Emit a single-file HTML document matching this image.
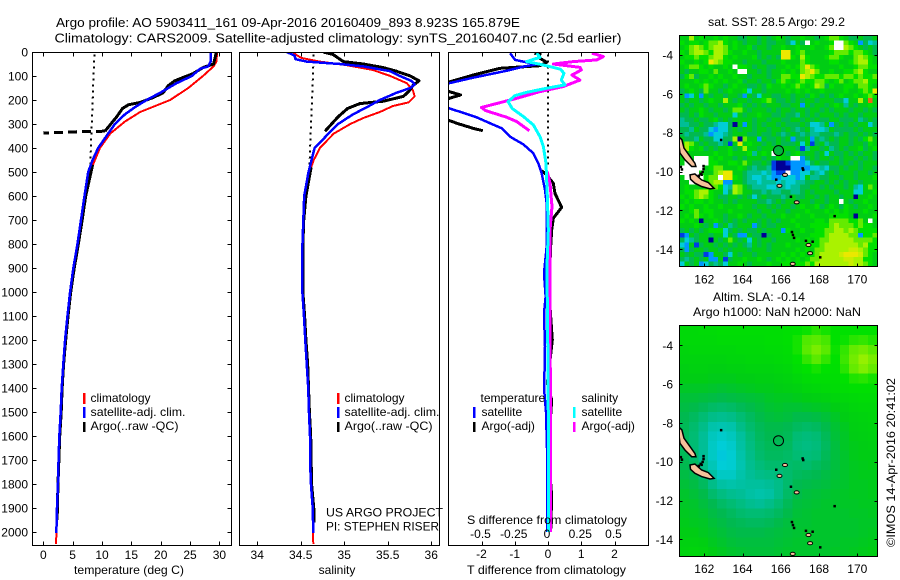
<!DOCTYPE html>
<html lang="en">
<head>
<meta charset="utf-8">
<title>Argo profile</title>
<style>
html,body{margin:0;padding:0;background:#fff;}
svg{display:block;font-family:"Liberation Sans",Arial,sans-serif;font-size:12px;fill:#000;}
text{fill:#000;}
</style>
</head>
<body>
<svg id="chart" xmlns="http://www.w3.org/2000/svg" width="900" height="580" viewBox="0 0 900 580">
<defs>
<clipPath id="clip-temp"><rect x="32.5" y="52.5" width="198.5" height="492.5"/></clipPath>
<clipPath id="clip-sal"><rect x="239.5" y="52.5" width="200" height="492.5"/></clipPath>
<clipPath id="clip-diff"><rect x="448.5" y="52.5" width="200" height="492.5"/></clipPath>
<clipPath id="clip-map1"><rect x="679.5" y="35.5" width="198" height="231"/></clipPath>
<clipPath id="clip-map2"><rect x="679.5" y="325.5" width="198" height="231"/></clipPath>
</defs>
<rect x="0" y="0" width="900" height="580" fill="#fff"/>
<text x="56" y="27" font-size="13" textLength="464" lengthAdjust="spacingAndGlyphs">Argo profile: AO 5903411_161 09-Apr-2016 20160409_893 8.923S 165.879E</text>
<text x="54.5" y="42.5" font-size="13" textLength="567" lengthAdjust="spacingAndGlyphs">Climatology: CARS2009. Satellite-adjusted climatology: synTS_20160407.nc (2.5d earlier)</text>

<g id="panel-temp"></g>
<g id="panel-sal"></g>
<g id="panel-diff"></g>
<g id="map-sst"></g>
<g id="map-sla"></g>

<text x="129" y="574" text-anchor="middle" textLength="110" lengthAdjust="spacingAndGlyphs">temperature (deg C)</text>
<text x="337" y="574" text-anchor="middle">salinity</text>
<text x="546.5" y="574" text-anchor="middle" textLength="159" lengthAdjust="spacingAndGlyphs">T difference from climatology</text>
<text x="547" y="524" text-anchor="middle" textLength="160" lengthAdjust="spacingAndGlyphs">S difference from climatology</text>

<rect x="83" y="393" width="2.5" height="11" fill="#f00"/>
<rect x="83" y="407" width="2.5" height="11" fill="#00f"/>
<rect x="83" y="422" width="2.5" height="10" fill="#000"/>
<text x="90.5" y="402">climatology</text>
<text x="90.5" y="416" textLength="95" lengthAdjust="spacingAndGlyphs">satellite-adj. clim.</text>
<text x="90.5" y="430" textLength="88" lengthAdjust="spacingAndGlyphs">Argo(..raw -QC)</text>

<rect x="337" y="393" width="2.5" height="11" fill="#f00"/>
<rect x="337" y="407" width="2.5" height="11" fill="#00f"/>
<rect x="337" y="422" width="2.5" height="10" fill="#000"/>
<text x="344.5" y="402">climatology</text>
<text x="344.5" y="416" textLength="95" lengthAdjust="spacingAndGlyphs">satellite-adj. clim.</text>
<text x="344.5" y="430" textLength="88" lengthAdjust="spacingAndGlyphs">Argo(..raw -QC)</text>
<text x="326" y="516.5" textLength="117" lengthAdjust="spacingAndGlyphs">US ARGO PROJECT</text>
<text x="326" y="530.5" textLength="113" lengthAdjust="spacingAndGlyphs">PI: STEPHEN RISER</text>

<text x="480.5" y="402">temperature</text>
<rect x="473" y="407" width="2.5" height="11" fill="#00f"/>
<rect x="473" y="422" width="2.5" height="10" fill="#000"/>
<text x="481.5" y="416">satellite</text>
<text x="481.5" y="430">Argo(-adj)</text>
<text x="581.5" y="402">salinity</text>
<rect x="573" y="407" width="2.5" height="11" fill="#0ff"/>
<rect x="573" y="422" width="2.5" height="10" fill="#f0f"/>
<text x="581.5" y="416">satellite</text>
<text x="581.5" y="430">Argo(-adj)</text>

<text x="708" y="26" textLength="137" lengthAdjust="spacingAndGlyphs">sat. SST: 28.5 Argo: 29.2</text>
<text x="713" y="301" textLength="92" lengthAdjust="spacingAndGlyphs">Altim. SLA: -0.14</text>
<text x="693" y="316" textLength="168" lengthAdjust="spacingAndGlyphs">Argo h1000: NaN h2000: NaN</text>
<text transform="translate(895 547) rotate(-90)" textLength="169" lengthAdjust="spacingAndGlyphs">©IMOS 14-Apr-2016 20:41:02</text>
</svg>

<script>
// ---------- depth ticks ----------
const depthTicks = [0,100,200,300,400,500,600,700,800,900,1000,1100,1200,1300,1400,1500,1600,1700,1800,1900,2000];
const tempTicks = [0,5,10,15,20,25,30];
const salTicks = [34,34.5,35,35.5,36];
const salTickLabels = ['34','34.5','35','35.5','36'];
const tDiffTicks = [-2,-1,0,1,2];
const sDiffTicks = [-0.5,-0.25,0,0.25,0.5];
const sDiffTickLabels = ['-0.5','-0.25','0','0.25','0.5'];
const lonTicks = [162,164,166,168,170];
const latTicks = [-4,-6,-8,-10,-12,-14];

// ---------- temperature ----------
const climTempDepth = [0,40,60,100,150,200,250,290,340,400,500,600,703,803,903,1003,1103,1203,1303,1403,1500,1600,1700,1800,1900,2000,2050];
const climTemp = [29.6,29.5,29,27.2,24.7,21.6,16.5,13.9,11.4,9.65,7.95,7.05,6.4,5.85,5.15,4.6,4.15,3.75,3.45,3.15,2.95,2.73,2.6,2.5,2.33,2.25,2.16];
const satTempDepth = [0,40,60,70,100,130,170,200,230,260,300,340,400,450,500,603,703,803,903,1003,1103,1203,1303,1403,1500,1600,1700,1800,1900,2005];
const satTemp = [28.5,28.5,28.1,26.7,25.3,22.7,19.9,17.6,15.6,13.9,12.2,11.05,9.35,8.4,7.65,7,6.4,5.8,5.1,4.55,4.1,3.7,3.4,3.13,2.96,2.73,2.6,2.5,2.33,2.22];
const argoTempDepth = [0,50,65,90,120,140,170,190,210,220,235,270,330,null,470,603,703,803,903,1003,1103,1203,1303,1403,1500,1600,1700,1800,1900,1950];
const argoTemp = [29.5,29,27.2,25.5,22.4,21.3,20.4,18.7,16.5,14.5,13.5,12.5,10.5,null,8.4,7.2,6.6,5.95,5.25,4.65,4.2,3.8,3.45,3.2,3.05,2.8,2.65,2.5,2.4,2.35];
const argoTempDropDepth = [330,332,335,338];
const argoTempDrop = [10.5,6,3,0];
const meanTempDepth = [10,470];
const meanTemp = [8.7,8];

// ---------- salinity ----------
const climSalDepth = [0,10,25,40,55,75,100,130,160,185,210,225,250,275,300,340,400,450,500,600,703,803,1003,1103,1203,1303,1403,1500,1600,1700,1800,1900,2000,2050];
const climSal = [34.415,34.44,34.51,34.72,35.03,35.33,35.53,35.72,35.79,35.81,35.74,35.56,35.41,35.22,35.07,34.88,34.72,34.65,34.6,34.55,34.53,34.52,34.52,34.538,34.553,34.57,34.587,34.595,34.607,34.607,34.618,34.638,34.64,34.645];
const satSalDepth = [0,15,30,40,50,60,80,100,120,135,150,170,200,230,260,300,340,400,500,600,703,803,1003,1103,1203,1303,1403,1500,1600,1700,1800,1900,2005];
const satSal = [34.34,34.43,34.44,34.57,34.95,35.22,35.53,35.64,35.77,35.81,35.76,35.6,35.41,35.26,35.1,34.93,34.82,34.66,34.59,34.54,34.53,34.52,34.52,34.538,34.553,34.57,34.587,34.595,34.607,34.607,34.618,34.638,34.645];
const argoSalDepth = [0,10,25,40,50,65,80,100,120,140,165,185,205,215,235,270,330,null,480,600,700,800,1000,1100,1200,1300,1400,1500,1600,1700,1800,1900,1960];
const argoSal = [34.76,34.87,34.93,34.99,35.22,35.45,35.6,35.76,35.86,35.79,35.74,35.68,35.45,35.18,35.04,34.93,34.78,null,34.62,34.56,34.535,34.525,34.525,34.545,34.56,34.58,34.59,34.6,34.615,34.62,34.625,34.65,34.65];
const meanSalDepth = [10,480];
const meanSal = [34.65,34.6];

// ---------- differences from climatology ----------
const satDTDepth = [5,33,43,51,61,78,107,130,180,235,249,272,297,318,353,385,422,464,506,575,630,811,922,1019,1089,1228,1367,1400,1500,1700,2000];
const satDT = [-1.14,-0.99,-0.64,-0.34,-0.74,-1.24,-2.25,-2.97,-3.6,-2.97,-2.65,-2.15,-1.74,-1.39,-1.14,-0.74,-0.44,-0.29,-0.19,-0.09,-0.04,-0.04,-0.12,-0.07,-0.12,-0.09,-0.11,-0.12,-0.06,-0.02,-0.02];
const argoDTDepth = [5,8,22,43,57,68,96,124,150,165,179,193,240,286,301,318,328,null,494,512,547,589,647,693,742,811,1000,1200,1300,1380,1450,1600,1700,1850,2000];
const argoDT = [-0.41,-0.24,-0.29,-0.04,-0.24,-1.44,-2.25,-2.95,-3.6,-2.97,-2.63,-2.97,-3.6,-2.97,-2.65,-2.25,-1.96,null,-0.19,-0.04,0.16,0.21,0.41,0.16,0.11,0.08,0.03,0.13,0.05,-0.02,0.11,0.04,0.03,0.11,0.08];
const satDSDepth = [5,22,40,51,61,72,89,117,137,151,168,182,207,235,269,304,353,394,464,603,742,900,1200,1500,2000];
const satDS = [-0.085,-0.06,-0.16,-0.06,0.015,0.095,0.12,0.1,0.128,-0.01,-0.16,-0.25,-0.3,-0.27,-0.185,-0.11,-0.06,-0.035,-0.015,-0.005,0.0025,-0.008,-0.002,0.002,0.004];
const argoDSDepth = [5,19,33,40,50,64,75,96,117,144,165,193,231,244,272,290,328,null,499,547,644,742,900,1200,1500,2000];
const argoDS = [0.33,0.416,0.366,0.19,0.04,0.24,0.25,0.18,0.24,0.115,-0.06,-0.235,-0.5,-0.47,-0.31,-0.235,-0.14,null,-0.005,0.015,0.03,0.015,0.015,0.015,0.02,0.02];
const zeroDiffDepth = [10,480];
const zeroDiff = [0,0];

// ---------- SST anomaly map, colour level per cell (N = missing) ----------
const N = null;
const sstRows = [
[6,6,9,6,7,6,6,7,6,7,6,6,5,5,6,6,5,6,5,6,7,6,5,6,6,7,6,6,5,6,7,8,8,7,6,5,5,6,5,5,6],
[7,6,7,7,6,7,8,8,9,7,6,7,6,5,6,6,5,6,5,5,6,6,5,3,6,5,N,6,7,6,6,7,N,N,8,7,6,2,5,3,4],
[6,7,8,9,8,7,8,9,9,8,6,7,6,6,7,5,6,6,5,6,6,7,6,6,7,6,6,7,6,6,7,8,N,N,9,8,7,6,5,6,5],
[7,6,8,9,9,8,7,9,9,8,7,6,6,7,6,6,5,6,6,6,6,10,10,6,7,8,6,6,6,6,6,7,8,8,8,7,8,8,7,6,5],
[6,7,7,8,7,7,8,9,9,7,6,7,6,6,6,7,5,6,5,6,5,10,10,7,6,9,7,6,6,6,7,8,8,7,6,6,8,9,8,7,6],
[7,6,6,7,6,7,10,9,8,7,7,6,6,5,6,6,6,5,6,6,6,7,6,6,6,8,7,6,6,6,6,7,7,6,6,7,8,9,9,7,6],
[6,7,8,8,7,6,7,6,6,7,6,N,7,7,6,5,6,6,5,5,6,6,7,6,7,8,10,8,7,6,6,6,6,7,6,6,7,8,8,7,7],
[6,5,6,6,7,7,6,8,6,6,7,6,N,N,6,6,5,6,5,6,6,7,6,7,6,8,9,10,8,6,6,7,6,6,7,7,8,9,7,6,6],
[5,7,8,5,6,6,7,6,7,6,6,7,6,6,5,6,6,6,5,6,6,8,8,7,7,10,9,8,7,7,8,8,8,7,8,8,7,8,7,7,8],
[6,6,6,7,6,7,6,7,6,7,6,6,7,5,6,6,5,6,6,5,7,8,7,6,7,8,7,7,8,8,7,6,7,8,6,7,8,8,9,7,7],
[6,7,6,6,7,8,7,6,6,5,6,7,6,6,5,5,6,5,7,6,6,7,6,7,8,7,6,7,9,8,5,7,6,6,7,7,6,8,8,7,6],
[5,6,7,6,5,8,6,6,5,6,7,6,6,7,3,6,6,5,6,6,6,6,7,6,7,6,7,6,6,7,6,6,6,6,7,6,6,7,8,7,10],
[6,2,3,6,2,6,5,6,6,5,6,6,5,2,6,5,3,6,6,5,5,6,6,5,6,6,5,7,6,5,6,5,6,7,6,6,7,6,7,8,7],
[6,5,6,6,5,6,7,6,6,9,6,5,6,6,5,6,6,7,8,6,5,5,6,5,6,5,6,6,5,6,6,6,5,5,3,6,6,9,6,11,6],
[5,6,5,6,6,5,6,6,5,6,6,6,7,5,6,5,6,5,6,6,6,5,5,6,6,2,6,5,6,6,5,6,7,6,4,6,5,6,6,7,6],
[6,5,6,6,7,6,5,6,6,5,6,8,8,6,5,6,6,6,5,6,5,6,6,5,6,6,5,6,6,5,6,5,6,6,6,5,6,6,5,6,5],
[5,5,6,5,7,6,6,5,6,6,6,3,6,5,6,6,7,6,6,5,5,6,5,5,4,6,5,6,5,6,6,6,5,6,5,6,6,5,6,6,6],
[4,5,5,6,5,5,6,7,5,6,5,6,6,6,6,5,6,6,5,6,6,5,5,6,6,5,6,5,6,5,5,6,6,5,5,5,6,4,5,6,5],
[4,4,5,5,6,5,5,4,3,3,5,0,6,2,6,5,6,5,6,6,5,6,5,5,5,6,5,3,3,4,6,2,5,6,5,6,5,6,6,3,5],
[5,5,4,6,5,5,3,2,3,3,5,6,5,6,6,5,6,6,5,6,6,5,6,5,4,5,6,4,3,3,4,6,5,5,5,5,6,5,6,6,6],
[5,4,5,5,5,4,2,3,3,4,5,6,6,6,5,5,6,5,5,6,5,4,5,6,5,4,5,4,4,5,5,5,4,5,6,5,5,6,5,6,5],
[6,5,5,4,6,5,5,3,3,5,5,9,0,8,6,6,2,6,5,5,6,5,6,2,5,5,6,2,5,4,5,6,5,6,6,5,6,5,7,8,6],
[7,9,8,6,5,6,5,5,4,5,1,6,10,6,7,6,6,5,6,5,6,5,5,5,6,3,6,1,5,6,4,5,5,6,6,5,6,6,5,7,6],
[8,9,7,6,7,5,6,5,6,6,7,5,6,9,6,6,5,6,6,6,5,6,6,6,5,1,4,6,6,5,6,4,5,6,5,6,6,7,5,6,7],
[5,7,6,6,6,6,6,7,6,6,7,6,6,6,7,4,6,7,6,N,6,6,5,6,7,5,6,6,5,6,3,6,5,5,6,5,6,5,6,6,5],
[6,6,6,N,N,N,7,6,7,6,6,5,6,5,6,6,6,5,6,5,7,6,6,N,N,2,5,6,5,6,6,5,6,5,6,6,5,6,5,6,5],
[6,N,N,N,N,N,7,7,6,6,7,7,6,8,6,5,5,6,5,1,0,0,1,2,2,2,3,5,6,5,5,6,6,5,6,5,6,5,6,6,6],
[N,N,N,N,N,6,7,8,8,6,6,6,7,6,5,4,5,5,4,1,0,0,0,2,2,2,2,3,3,4,3,5,5,6,5,6,6,5,6,6,5],
[N,N,N,N,7,6,6,8,9,10,10,6,6,5,4,4,4,3,4,2,1,1,N,2,2,3,3,5,4,3,5,6,5,6,6,6,5,6,6,5,6],
[6,N,N,N,N,7,8,8,N,10,10,7,6,5,4,3,3,4,3,2,2,3,3,3,2,3,6,4,4,5,5,6,6,5,6,6,5,6,6,6,7],
[6,6,N,N,6,7,8,9,9,2,2,6,6,5,4,4,3,4,4,4,3,4,3,3,4,4,5,5,6,6,5,6,5,6,5,6,6,5,6,6,6],
[6,7,6,6,6,7,8,8,7,3,4,9,8,6,5,4,4,4,3,3,4,4,3,4,4,5,5,6,6,5,6,5,6,6,5,6,4,3,6,8,6],
[6,7,7,8,9,9,7,6,6,3,5,9,8,6,6,5,5,4,5,4,4,5,5,4,4,5,6,5,6,6,6,6,5,6,6,6,3,3,6,6,7],
[7,6,7,8,9,8,7,6,5,5,6,6,5,6,5,3,5,6,5,5,5,4,5,6,5,5,6,6,5,6,5,6,6,5,6,6,0,6,6,7,6],
[6,7,6,7,7,6,7,6,6,5,6,5,6,6,6,6,5,5,4,5,6,5,6,6,5,6,6,5,6,6,5,6,6,N,6,5,6,6,7,6,6],
[7,6,7,6,6,7,6,6,7,6,6,6,7,6,6,5,6,6,5,6,5,6,6,5,6,7,6,6,7,5,6,7,6,5,7,6,5,6,6,7,6],
[6,6,7,8,6,7,7,6,6,6,7,6,6,6,6,6,5,6,6,5,6,6,5,6,6,6,7,6,6,6,7,6,7,6,7,6,6,6,7,6,6],
[6,7,6,8,7,6,7,6,6,5,6,6,7,6,5,6,6,5,6,6,6,7,6,6,7,6,6,7,6,6,6,7,7,7,7,6,0,6,6,6,7],
[7,6,7,6,0,6,6,7,6,5,6,5,6,5,6,6,5,6,5,6,5,6,6,7,6,6,6,6,7,7,6,8,8,8,8,7,7,8,6,N,6],
[6,6,6,7,6,5,6,2,5,6,4,5,6,6,6,2,5,6,5,5,6,6,6,6,7,6,6,7,7,7,7,8,9,8,8,8,7,8,7,7,6],
[5,6,5,6,5,6,7,7,7,3,5,6,5,6,5,5,6,5,6,6,6,2,7,6,6,7,6,6,7,7,8,8,9,9,8,9,8,7,7,7,7],
[1,2,6,5,6,6,5,6,6,3,6,5,2,2,6,5,5,0,5,6,6,6,6,7,6,6,6,7,7,7,8,9,9,9,9,8,8,2,7,7,8],
[5,3,4,5,6,6,0,6,5,6,8,6,5,6,3,6,5,6,6,5,6,6,6,6,7,6,7,6,7,8,8,9,9,9,9,9,8,8,8,8,7],
[3,2,6,1,5,6,6,5,6,5,6,5,6,5,4,6,5,6,5,6,6,6,7,6,6,6,7,7,7,8,9,9,9,9,9,9,9,8,9,7,7],
[5,2,5,6,6,5,6,6,5,6,5,6,6,6,5,6,6,6,5,6,6,6,6,6,7,6,7,6,8,8,9,9,9,9,9,9.5,9.5,9,8,7,7],
[6,5,6,5,5,1,2,6,6,5,3,6,5,6,6,5,6,6,6,6,6,7,6,7,6,7,6,7,8,9,9,9,9,9.5,10,10,10,9.5,8,7,6],
[5,4,5,6,5,6,2,2,6,1,5,6,6,7,6,6,7,6,5,6,7,6,7,6,7,6,7,8,8,9,9,9,9,9,9.5,9.5,9,9,7,7,6],
[3,6,5,6,2,3,5,4,5,3,6,6,7,6,5,6,6,6,7,6,6,7,7,6,7,7,8,7,9,9,9,9,9,9,9,9.5,9,9,8,7,6]
];

// ---------- sea level anomaly map, colour level per coarse cell ----------
const slaRows = [
[6.6,6.6,6.7,6.7,6.8,6.8,6.8,6.8,6.8,6.8,6.8,6.9,7,7.1,7.4,7.2,7,7,7,7,7],
[6.6,6.6,6.6,6.6,6.7,6.7,6.7,6.7,6.7,6.8,6.8,6.9,7.2,7.8,7.9,7.7,7,7.1,7.4,7.5,7.3],
[6.4,6.5,6.5,6.5,6.5,6.5,6.6,6.6,6.6,6.7,6.7,6.8,7.2,7.9,8.3,7.9,7.1,7.5,8,8.2,7.9],
[6.3,6.3,6.3,6.3,6.3,6.4,6.4,6.5,6.5,6.5,6.6,6.7,7,7.5,7.9,7.5,7,7.6,8.2,8.7,8.3],
[6.1,6.2,6.2,6.1,6.1,6.2,6.2,6.3,6.3,6.3,6.4,6.5,6.8,7,7.2,7,6.9,7.4,8,8.4,8],
[6,6,6,5.9,5.9,5.9,6,6,6.1,6.1,6.2,6.3,6.5,6.7,6.8,6.8,6.8,7,7.3,7.4,7.2],
[5.7,5.7,5.7,5.6,5.5,5.6,5.7,5.8,5.9,5.9,6,6.1,6.2,6.4,6.5,6.6,6.7,6.8,6.9,6.9,6.9],
[5.4,5.4,5.3,5.2,5.1,5.2,5.3,5.4,5.5,5.7,5.8,5.8,5.9,6,6.1,6.2,6.4,6.5,6.6,6.7,6.7],
[5.2,5.1,4.9,4.7,4.6,4.7,4.9,5.1,5.3,5.5,5.6,5.5,5.5,5.6,5.7,5.8,6,6.2,6.4,6.5,6.5],
[5,4.8,4.5,4.2,4.1,4.2,4.5,4.8,5.1,5.3,5.4,5.3,5.1,5.1,5.2,5.4,5.7,6,6.2,6.3,6.4],
[4.9,4.6,4.2,3.7,3.6,3.7,4.2,4.6,4.9,5.1,5.1,5,4.8,4.7,4.8,5.1,5.5,5.8,6.1,6.2,6.3],
[4.8,4.5,4,3.4,3.2,3.4,3.9,4.4,4.8,5,5,4.9,4.5,4.4,4.5,4.9,5.4,5.7,6,6.1,6.2],
[4.8,4.5,4,3.3,3,3.2,3.8,4.3,4.7,4.9,4.9,4.8,4.4,4.3,4.4,4.8,5.3,5.7,5.9,6,6.1],
[4.9,4.6,4,3.3,2.9,3.1,3.7,4.2,4.6,4.8,4.8,4.7,4.5,4.4,4.5,4.9,5.3,5.6,5.9,6,6],
[5,4.8,4.2,3.5,3,3.1,3.6,4.1,4.4,4.6,4.6,4.6,4.7,4.6,4.8,5,5.3,5.6,5.8,5.9,6],
[5.2,5,4.5,3.8,3.3,3.3,3.7,4,4.2,4.3,4.4,4.6,4.8,4.9,5,5.2,5.4,5.6,5.8,5.9,5.9],
[5.4,5.2,4.8,4.2,3.8,3.7,3.8,3.9,3.9,4,4.2,4.6,5,5.1,5.2,5.3,5.5,5.6,5.8,5.8,5.9],
[5.6,5.4,5.1,4.6,4.3,4.1,4,3.8,3.7,3.8,4.2,4.7,5.1,5.3,5.4,5.5,5.6,5.7,5.8,5.8,5.9],
[5.7,5.6,5.3,5,4.7,4.5,4.3,4.1,4,4.2,4.5,4.9,5.3,5.4,5.5,5.6,5.6,5.7,5.7,5.8,5.8],
[5.8,5.7,5.5,5.2,5,4.8,4.6,4.5,4.5,4.6,4.8,5.1,5.4,5.5,5.6,5.6,5.6,5.6,5.7,5.7,5.8],
[5.9,5.8,5.7,5.4,5.2,5,4.9,4.8,4.8,4.9,5.1,5.3,5.5,5.5,5.6,5.6,5.6,5.6,5.6,5.7,5.7],
[6,6,5.8,5.6,5.4,5.2,5.1,5.1,5.1,5.2,5.3,5.4,5.5,5.6,5.6,5.6,5.6,5.6,5.6,5.7,5.8],
[6.2,6.2,6.1,5.8,5.6,5.4,5.3,5.3,5.3,5.3,5.4,5.5,5.6,5.6,5.6,5.6,5.6,5.7,5.7,5.8,5.9],
[6.3,6.4,6.3,6,5.8,5.6,5.5,5.4,5.4,5.4,5.5,5.6,5.6,5.6,5.6,5.6,5.7,5.7,5.8,5.9,6]
];

// ---------- geography in lon/lat ----------
const profileLon = 165.88;
const profileLat = -8.92;
const island1Lon = [160.69,160.83,160.94,161.25,161.51,161.56,161.34,160.99,160.73,160.69];
const island1Lat = [-8.23,-8.36,-8.79,-9.22,-9.57,-9.74,-9.74,-9.4,-9.05,-8.71];
const island2Lon = [161.25,161.51,161.86,162.21,162.51,162.3,161.86,161.51,161.28];
const island2Lat = [-10.17,-10.12,-10.43,-10.56,-10.86,-10.89,-10.77,-10.6,-10.39];
const islandLon = [165.93,166.22,166.83,167.45,167.53,166.62];
const islandLat = [-10.73,-10.17,-11.58,-13.78,-14.2,-14.75];
const reefLon = [160.76,160.82,161.95,161.95,161.9,161.7,161.8,161.85,162.87,165.75,166.52,167.13,167.16,168.8,166.57,166.62,166.68,167.3,167.65,168.05];
const reefLat = [-9.75,-9.88,-9.7,-9.85,-10,-10.2,-10.1,-10.15,-8.36,-10.4,-11.28,-9.82,-9.9,-12.28,-13.1,-13.25,-13.4,-13.55,-13.6,-14.4];

// ---------- colour scale ----------
const levelColors = [[0,0,150],[0,60,230],[0,150,255],[0,205,215],[0,190,150],[0,185,80],[0,205,20],[0,225,0],[100,235,0],[170,242,0],[235,232,0],[240,100,20]];
function levelColor(v){
  if(v===null) return '#fff';
  const i=Math.max(0,Math.min(levelColors.length-2,Math.floor(v)));
  const t=v-i;
  const a=levelColors[i],b=levelColors[i+1];
  return 'rgb('+[0,1,2].map(k=>Math.round(a[k]+(b[k]-a[k])*t)).join(',')+')';
}

// ---------- scales ----------
const yDepth = d => 52 + 0.24*d;
const xTemp = t => 43.3 + 5.87*t;
const xSal = s => 300.7 + 87*(s-34.5);
const xDT = t => 548 + 33.25*t;
const xDS = s => 548 + 133*s;
const xLon = lon => 704.3 + 19.125*(lon-162);
const yLat1 = lat => 55 - 19.43*(lat+4);
const yLat2 = lat => 345.3 - 19.4*(lat+4);

const NS='http://www.w3.org/2000/svg';
function mk(parent,tag,attrs,txt){
  const e=document.createElementNS(NS,tag);
  for(const k in attrs) e.setAttribute(k,attrs[k]);
  if(txt!==undefined) e.textContent=txt;
  parent.appendChild(e);
  return e;
}
function drawSeries(parent,values,depths,xs,color,width,name,dash){
  let pts=[];
  const flush=()=>{
    if(pts.length>1){
      const p=mk(parent,'polyline',{points:pts.join(' '),fill:'none',stroke:color,'stroke-width':width,'stroke-linejoin':'round','stroke-dasharray':dash||'none','shape-rendering':'crispEdges'});
      
      
    }
    pts=[];
  };
  values.forEach((v,i)=>{
    if(v===null||depths[i]===null){flush();}
    else pts.push(xs(v).toFixed(2)+','+yDepth(depths[i]).toFixed(2));
  });
  flush();
}
function drawFrame(parent,x0,x1,y0,y1,name){
  const r=mk(parent,'rect',{x:x0,y:y0,width:x1-x0,height:y1-y0,fill:'none',stroke:'#000','stroke-width':1,'shape-rendering':'crispEdges'});
  
  
}
function xTick(parent,x,y0,y1,len,name){
  [[y0,y0+len],[y1,y1-len]].forEach(s=>{
    const l=mk(parent,'line',{x1:x,x2:x,y1:s[0],y2:s[1],stroke:'#000','shape-rendering':'crispEdges'});
    
    
  });
}
function yTick(parent,y,x0,x1,len,name){
  [[x0,x0+len],[x1,x1-len]].forEach(s=>{
    const l=mk(parent,'line',{x1:s[0],x2:s[1],y1:y,y2:y,stroke:'#000','shape-rendering':'crispEdges'});
    
    
  });
}
function label(parent,x,y,anchor,txt,name){
  const t=mk(parent,'text',{x:x,y:y,'text-anchor':anchor},txt);
  
  
}
function clipped(parent,id,name){
  const g=mk(parent,'g',{'clip-path':'url(#'+id+')'});
  
  
  return g;
}

// ---------- temperature panel ----------
const pT=document.getElementById('panel-temp');
const gT=clipped(pT,'clip-temp','temperature-series');
drawSeries(gT,meanTemp,meanTempDepth,xTemp,'#000',2,'temperature-reference-dotted-line','2,4');
drawSeries(gT,climTemp,climTempDepth,xTemp,'#f00',2,'temperature-climatology-line');
drawSeries(gT,argoTemp,argoTempDepth,xTemp,'#000',3,'temperature-argo-line');
drawSeries(gT,argoTempDrop,argoTempDropDepth,xTemp,'#000',3,'temperature-argo-bad-segment','9,5');
drawSeries(gT,satTemp,satTempDepth,xTemp,'#00f',2.5,'temperature-satellite-line');
drawFrame(pT,32.5,231.5,52.5,545.5,'temperature-axes-frame');
tempTicks.forEach(v=>{
  xTick(pT,Math.round(xTemp(v))+0.5,52.5,545.5,4,'temperature-x-tick');
  label(pT,xTemp(v),559,'middle',String(v),'temperature-x-tick-label');
});
depthTicks.forEach(v=>{
  yTick(pT,Math.round(yDepth(v))+0.5,32.5,231.5,4,'depth-tick');
  label(pT,28,yDepth(v)+4.5,'end',String(v),'depth-tick-label');
});

// ---------- salinity panel ----------
const pS=document.getElementById('panel-sal');
const gS=clipped(pS,'clip-sal','salinity-series');
drawSeries(gS,meanSal,meanSalDepth,xSal,'#000',2,'salinity-reference-dotted-line','2,4');
drawSeries(gS,climSal,climSalDepth,xSal,'#f00',2,'salinity-climatology-line');
drawSeries(gS,argoSal,argoSalDepth,xSal,'#000',3,'salinity-argo-line');
drawSeries(gS,satSal,satSalDepth,xSal,'#00f',2.5,'salinity-satellite-line');
drawFrame(pS,239.5,439.5,52.5,545.5,'salinity-axes-frame');
salTicks.forEach((v,i)=>{
  xTick(pS,Math.round(xSal(v))+0.5,52.5,545.5,4,'salinity-x-tick');
  label(pS,xSal(v),559,'middle',salTickLabels[i],'salinity-x-tick-label');
});

// ---------- difference panel ----------
const pD=document.getElementById('panel-diff');
const gD=clipped(pD,'clip-diff','difference-series');
drawSeries(gD,zeroDiff,zeroDiffDepth,xDT,'#000',2,'zero-difference-dotted-line','2,4');
drawSeries(gD,argoDT,argoDTDepth,xDT,'#000',3,'t-difference-argo-line');
drawSeries(gD,satDT,satDTDepth,xDT,'#00f',2.5,'t-difference-satellite-line');
drawSeries(gD,argoDS,argoDSDepth,xDS,'#f0f',3,'s-difference-argo-line');
drawSeries(gD,satDS,satDSDepth,xDS,'#0ff',3,'s-difference-satellite-line');
drawFrame(pD,448.5,648.5,52.5,545.5,'difference-axes-frame');
tDiffTicks.forEach(v=>{
  xTick(pD,Math.round(xDT(v))+0.5,52.5,545.5,4,'t-difference-x-tick');
  label(pD,xDT(v),558,'middle',String(v),'t-difference-tick-label');
});
sDiffTicks.forEach((v,i)=>{
  label(pD,xDS(v)-1,538,'middle',sDiffTickLabels[i],'s-difference-tick-label');
});

// ---------- maps ----------
function drawMap(parent,rows,clipId,top,yLat,cellName,frameName,lonName,latName,fillCircle){
  const left=679.5, W=198, H=231;
  const g=clipped(parent,clipId,cellName+'-layer');
  const cw=W/rows[0].length, ch=H/rows.length;
  rows.forEach((row,r)=>row.forEach((v,c)=>{
    const cell=mk(g,'rect',{x:(left+c*cw).toFixed(2),y:(top+r*ch).toFixed(2),width:(cw+0.4).toFixed(2),height:(ch+0.4).toFixed(2),fill:levelColor(v),'shape-rendering':'crispEdges'});
    
    
  }));
  [[island1Lon,island1Lat],[island2Lon,island2Lat]].forEach(s=>{
    const pts=s[0].map((lon,i)=>xLon(lon).toFixed(1)+','+yLat(s[1][i]).toFixed(1)).join(' ');
    const land=mk(g,'polygon',{points:pts,fill:'#f7c19b',stroke:'#000','stroke-width':1.5});
    
    
  });
  islandLon.forEach((lon,i)=>{
    const e=mk(g,'ellipse',{cx:xLon(lon).toFixed(1),cy:yLat(islandLat[i]).toFixed(1),rx:2.5,ry:1.6,fill:'#f7c19b',stroke:'#000','stroke-width':1});
    
    
  });
  reefLon.forEach((lon,i)=>{
    const e=mk(g,'rect',{x:(xLon(lon)-1).toFixed(1),y:(yLat(reefLat[i])-1).toFixed(1),width:2.5,height:2.5,fill:'#000'});
    
    
  });
  const ring=mk(g,'circle',{cx:xLon(profileLon).toFixed(1),cy:yLat(profileLat).toFixed(1),r:5,fill:fillCircle,stroke:'#000','stroke-width':1});
  
  
  drawFrame(parent,left,left+W,top,top+H,frameName);
  const bottom=top+H;
  lonTicks.forEach(v=>{
    xTick(parent,Math.round(xLon(v))+0.5,top,bottom,3,lonName+'-tick');
    label(parent,xLon(v),bottom+(top<100?17:16.5),'middle',String(v),lonName+'-tick-label');
  });
  latTicks.forEach(v=>{
    yTick(parent,Math.round(yLat(v))+0.5,left,left+W,3,latName+'-tick');
    label(parent,673,yLat(v)+4.5,'end',String(v),latName+'-tick-label');
  });
}
drawMap(document.getElementById('map-sst'),sstRows,'clip-map1',35.5,yLat1,'sst-cell','sst-map-frame','sst-longitude','sst-latitude','#00b83c');
drawMap(document.getElementById('map-sla'),slaRows,'clip-map2',325.5,yLat2,'sla-cell','sla-map-frame','sla-longitude','sla-latitude','none');
</script>
</body>
</html>
